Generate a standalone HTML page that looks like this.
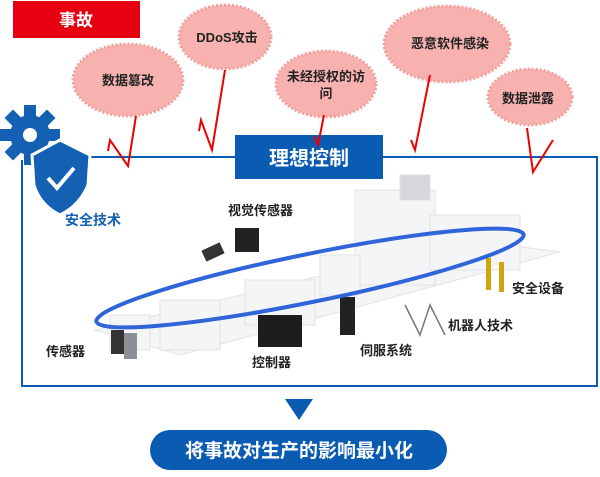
<!DOCTYPE html>
<html><head><meta charset="utf-8"><style>
body{margin:0;background:#fff;width:600px;height:472px;overflow:hidden;font-family:"Liberation Sans","Noto Sans CJK SC",sans-serif}
</style></head><body>
<svg width="600" height="472" viewBox="0 0 600 472" xmlns="http://www.w3.org/2000/svg" font-family="Liberation Sans, Noto Sans CJK SC, sans-serif">
<!-- machinery background -->
<g fill="#f4f5f6" stroke="#e0e2e5" stroke-width="1">
<polygon points="95,330 470,240 560,252 180,355"/>
<rect x="355" y="190" width="80" height="95"/>
<rect x="430" y="215" width="90" height="55"/>
<rect x="160" y="300" width="60" height="50"/>
<rect x="245" y="280" width="70" height="45"/>
<rect x="110" y="315" width="40" height="35"/>
<rect x="320" y="255" width="40" height="40"/>
<rect x="400" y="175" width="30" height="25" fill="#d5d7db"/>
</g>
<!-- products -->
<rect x="235" y="228" width="24" height="24" fill="#222"/>
<rect x="203" y="246" width="20" height="12" fill="#333" transform="rotate(-25 213 252)"/>
<rect x="258" y="315" width="44" height="32" fill="#1d1d1d"/>
<rect x="340" y="297" width="15" height="38" fill="#222"/>
<rect x="111" y="330" width="13" height="24" fill="#333"/>
<rect x="124" y="333" width="13" height="26" fill="#8b9097"/>
<rect x="486" y="258" width="5" height="32" fill="#d1a40e"/>
<rect x="499" y="262" width="5" height="30" fill="#d1a40e"/>
<path d="M405,305 L420,335 L430,305 L445,335" stroke="#777" fill="none" stroke-width="1.5"/>
<ellipse cx="310" cy="278" rx="218" ry="24" transform="rotate(-11.5 310 278)" fill="none" stroke="#2f65d8" stroke-width="4"/>
<!-- frame -->
<polyline points="22,160 22,386 597,386 597,157 85,157" fill="none" stroke="#0c5cb3" stroke-width="2"/>
<rect x="235" y="135" width="148" height="44" fill="#0a5bb2"/>
<text x="309" y="165" font-size="20" font-weight="bold" fill="#fff" text-anchor="middle">理想控制</text>
<!-- gear + shield -->
<g fill="#1461b4">
<circle cx="30" cy="135" r="20"/>
<g transform="translate(30 135)">
<rect x="-6" y="-30" width="12" height="60"/><rect x="-30" y="-6" width="60" height="12"/>
<rect x="-6" y="-30" width="12" height="60" transform="rotate(45)"/><rect x="-6" y="-30" width="12" height="60" transform="rotate(-45)"/>
</g>
<circle cx="30" cy="135" r="7" fill="#fff"/>
<path d="M60,140 L90,155 L88,185 Q80,205 60,215 Q40,205 34,185 L32,155 Z" stroke="#fff" stroke-width="3"/>
</g>
<path d="M48,178 L57,188 L74,168" stroke="#fff" stroke-width="4" fill="none"/>
<!-- 事故 box -->
<rect x="13" y="1" width="127" height="37" fill="#e60012"/>
<text x="76" y="26" font-size="17" font-weight="bold" fill="#fff" text-anchor="middle">事故</text>
<!-- bubbles -->
<g fill="#f7b2b0" stroke="#f2a09e" stroke-width="3" stroke-dasharray="2 2">
<ellipse cx="128" cy="80" rx="55" ry="36"/>
<ellipse cx="225" cy="37" rx="46" ry="32"/>
<ellipse cx="326" cy="84" rx="50" ry="33"/>
<ellipse cx="447" cy="44" rx="63" ry="38"/>
<ellipse cx="530" cy="97" rx="42" ry="28"/>
</g>
<g font-size="13" font-weight="bold" fill="#222" text-anchor="middle">
<text x="128" y="85">数据篡改</text>
<text x="227" y="42">DDoS攻击</text>
<text x="326" y="81">未经授权的访</text><text x="326" y="98">问</text>
<text x="450" y="48">恶意软件感染</text>
<text x="528" y="103">数据泄露</text>
</g>
<!-- red arrows -->
<g stroke="#e00" stroke-width="2" fill="none">
<polyline points="136,116 128,166 110,140 108,151 M110,140 121,141"/>
<polyline points="225,70 212,150 201,120 199,131 M201,120 209,127"/>
<polyline points="324,115 318,145 314,136 M318,145 325,137"/>
<polyline points="430,75 415,150 411,140 M415,150 422,141"/>
<polyline points="527,128 533,172 553,140 M553,140 543,143 M553,140 553,150"/>
</g>
<!-- labels -->
<g font-size="13" font-weight="bold" fill="#222">
<text x="65" y="225" fill="#1461b4" font-size="14">安全技术</text>
<text x="228" y="215">视觉传感器</text>
<text x="512" y="293">安全设备</text>
<text x="448" y="330">机器人技术</text>
<text x="360" y="355">伺服系统</text>
<text x="252" y="367">控制器</text>
<text x="46" y="356">传感器</text>
</g>
<polygon points="285,399 313,399 299,420" fill="#0a5bb2"/>
<rect x="150" y="430" width="297" height="40" rx="20" fill="#0a5bb2"/>
<text x="299" y="457" font-size="19" font-weight="bold" fill="#fff" text-anchor="middle">将事故对生产的影响最小化</text>
</svg>
</body></html>
